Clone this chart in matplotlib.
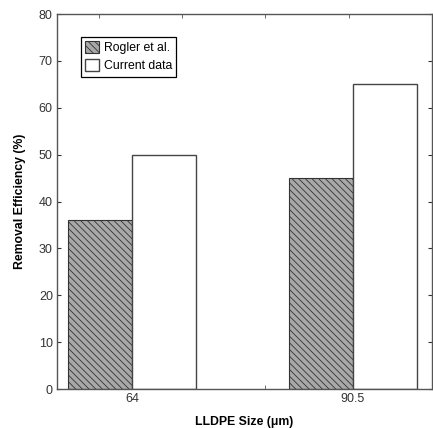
import numpy as np
import matplotlib
matplotlib.use('Agg')
from matplotlib import pyplot as plt

plt.rcParams['font.family'] = ['Liberation Sans', 'DejaVu Sans']
plt.rcParams['hatch.linewidth'] = 0.6

sizes = [64, 90.5]
size_labels = ['64', '90.5']
rogler = [36, 45]
current = [50, 65]
w = 7.7

fig = plt.figure(figsize=(4.33, 4.28), dpi=100)
ax = fig.add_axes([0.1316, 0.0911, 0.866, 0.876])

x = np.array(sizes)
ax.bar(x - w/2, rogler, width=w, facecolor='#a8a8a8', edgecolor='#333333',
       hatch='\\\\\\\\\\', linewidth=0.8, label='Rogler et al.')
ax.bar(x + w/2, current, width=w, facecolor='white', edgecolor='#444444',
       linewidth=1.0, label='Current data')

ax.set_xlim(55, 100)
ax.set_ylim(0, 80)
ax.set_yticks(range(0, 81, 10))
ax.set_xticks(sizes)
ax.set_xticklabels(size_labels)
ax.set_xticks([60, 70, 80, 90], minor=True)
ax.tick_params(axis='x', which='major', length=0, labelsize=9, pad=3, colors='#333333')
ax.tick_params(axis='x', which='minor', direction='in', length=3, top=True, bottom=True, color='#555555')
ax.tick_params(axis='y', direction='in', length=3, right=True, labelsize=9, pad=3, colors='#333333')
ax.set_axisbelow(True)
for s in ax.spines.values():
    s.set_color('#555555')
    s.set_linewidth(1.0)

ax.set_xlabel('LLDPE Size (\u03bcm)', fontsize=8.8, fontweight='bold', labelpad=8)
ax.set_ylabel('Removal Efficiency (%)', fontsize=8.8, fontweight='bold', labelpad=9)

leg = ax.legend(loc='upper left', bbox_to_anchor=(0.064, 0.94), fontsize=8.8,
                fancybox=False, edgecolor='black', framealpha=1,
                handlelength=1.1, handleheight=1.1, handletextpad=0.4,
                borderpad=0.35, labelspacing=0.45, borderaxespad=0)
leg.get_frame().set_linewidth(0.9)

fig.savefig('out.png', dpi=100)
